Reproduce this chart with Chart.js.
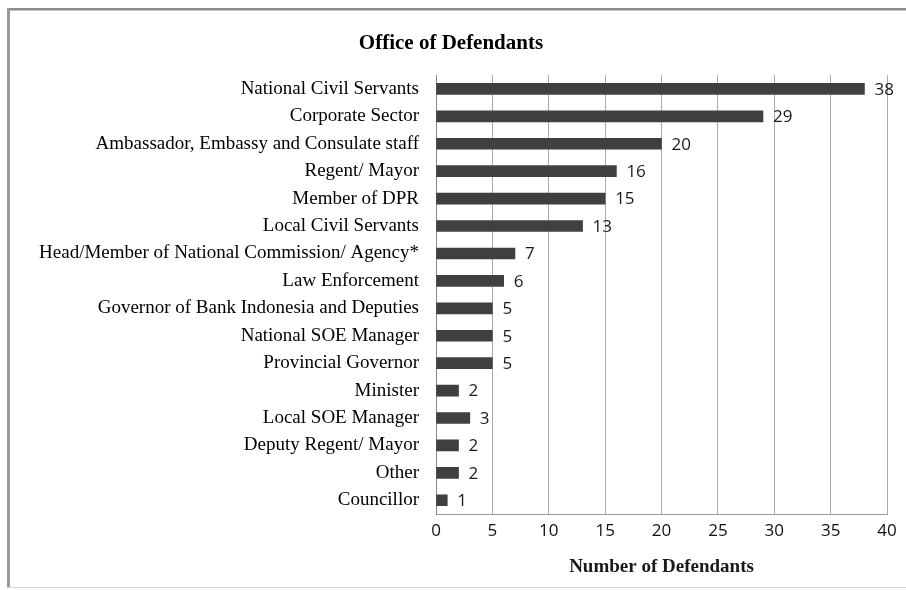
<!DOCTYPE html>
<html>
<head>
<meta charset="utf-8">
<script src="https://cdn.jsdelivr.net/npm/chart.js@4/dist/chart.umd.min.js"></script>
<style>
    html, body { margin: 0; padding: 0; background: #fff; }
    #wrap { width: 906px; height: 590px; }
</style>
</head>
<body>
<div id="wrap"><canvas id="chart" width="906" height="590"></canvas></div>
<script>
// dati
const offices = [
    "National Civil Servants",
    "Corporate Sector",
    "Ambassador, Embassy and Consulate staff",
    "Regent/ Mayor",
    "Member of DPR",
    "Local Civil Servants",
    "Head/Member of National Commission/ Agency*",
    "Law Enforcement",
    "Governor of Bank Indonesia and Deputies",
    "National SOE Manager",
    "Provincial Governor",
    "Minister",
    "Local SOE Manager",
    "Deputy Regent/ Mayor",
    "Other",
    "Councillor"
];
const defendants = [38, 29, 20, 16, 15, 13, 7, 6, 5, 5, 5, 2, 3, 2, 2, 1];
const xTicks = [0, 5, 10, 15, 20, 25, 30, 35, 40];

// cornice grigia attorno al grafico
const framePlugin = {
    id: 'frame',
    beforeDraw(chart) {
        const ctx = chart.ctx;
        ctx.save();
        ctx.fillStyle = '#ffffff';
        ctx.fillRect(0, 0, chart.width, chart.height);
        ctx.fillStyle = '#8c8c8c';
        ctx.fillRect(7, 8, chart.width - 7, 2);
        ctx.fillStyle = '#c8c8c8';
        ctx.fillRect(7, 10, chart.width - 7, 1);
        ctx.fillStyle = '#9a9a9a';
        ctx.fillRect(7, 8, 3, 580);
        ctx.fillStyle = '#d6d6d6';
        ctx.fillRect(7, 587, chart.width - 7, 1);
        ctx.restore();
    }
};

// etichette con i valori a destra delle barre
const valueLabels = {
    id: 'valueLabels',
    afterDatasetsDraw(chart) {
        const ctx = chart.ctx;
        const meta = chart.getDatasetMeta(0);
        ctx.save();
        ctx.font = '17px "Open Sans"';
        ctx.fillStyle = '#1a1a1a';
        ctx.textAlign = 'left';
        ctx.textBaseline = 'middle';
        meta.data.forEach((bar, i) => {
            ctx.fillText(String(defendants[i]), bar.x + 10, bar.y + 1);
        });
        ctx.restore();
    }
};

new Chart(document.getElementById('chart'), {
    type: 'bar',
    data: {
        labels: offices,
        datasets: [{
            data: defendants,
            backgroundColor: '#404040',
            barThickness: 11
        }]
    },
    options: {
        indexAxis: 'y',
        responsive: false,
        animation: false,
        layout: { padding: { left: 15, right: 19, top: 0, bottom: 0 } },
        plugins: {
            legend: { display: false },
            tooltip: { enabled: false },
            title: {
                display: true,
                text: 'Office of Defendants',
                color: '#000',
                font: { family: '"Liberation Serif"', size: 21, weight: 'bold' },
                padding: { top: 31, bottom: 19 }
            }
        },
        scales: {
            x: {
                min: 0,
                max: 40,
                afterBuildTicks(scale) {
                    scale.ticks = xTicks.map(v => ({ value: v }));
                },
                afterFit(scale) { scale.height = 76; },
                grid: { color: '#aaaaaa', drawTicks: false, lineWidth: 1 },
                border: { color: '#9a9a9a' },
                ticks: {
                    color: '#111',
                    padding: 7,
                    font: { family: '"Open Sans"', size: 17 }
                },
                title: {
                    display: true,
                    text: 'Number of Defendants',
                    color: '#1a1a1a',
                    font: { family: '"Liberation Serif"', size: 19, weight: 'bold' },
                    padding: { top: 0, bottom: 12 }
                }
            },
            y: {
                afterFit(scale) { scale.width = 421; },
                grid: { display: false, drawTicks: false },
                border: { color: '#8a8a8a' },
                ticks: {
                    color: '#000',
                    padding: 17,
                    autoSkip: false,
                    font: { family: '"Liberation Serif"', size: 19 }
                }
            }
        }
    },
    plugins: [framePlugin, valueLabels]
});
</script>
</body>
</html>
